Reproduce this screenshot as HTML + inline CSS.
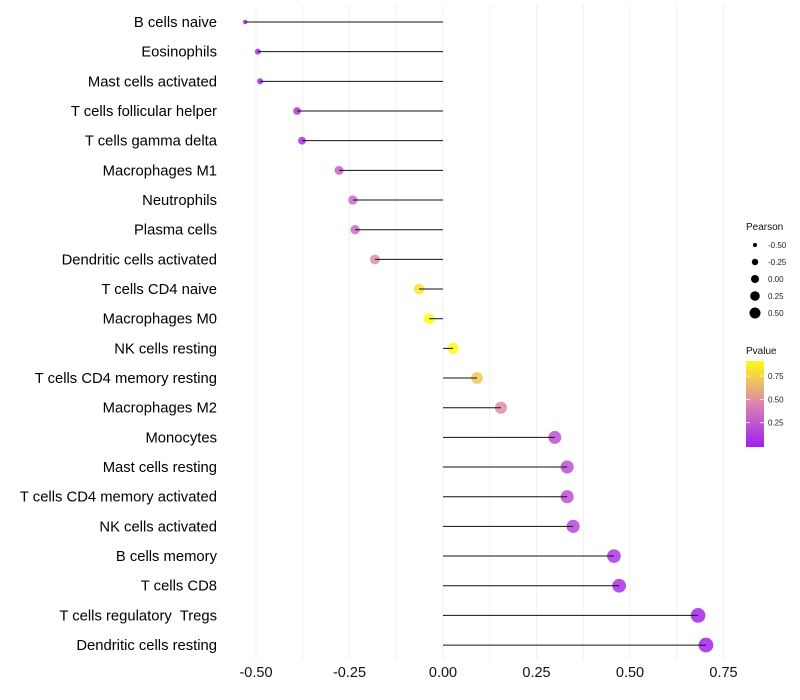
<!DOCTYPE html>
<html><head><meta charset="utf-8"><style>
body{margin:0;background:#fff;font-family:"Liberation Sans",sans-serif;}
svg{display:block}
text{white-space:pre}
</style></head><body>
<svg id="chart" width="800" height="700">
<g id="grid"></g>
<g id="marks"></g>
<g id="ylab"></g>
<g id="xlab"></g>
<g id="legend"></g>
</svg>
<script>
const categories=["B cells naive","Eosinophils","Mast cells activated","T cells follicular helper","T cells gamma delta","Macrophages M1","Neutrophils","Plasma cells","Dendritic cells activated","T cells CD4 naive","Macrophages M0","NK cells resting","T cells CD4 memory resting","Macrophages M2","Monocytes","Mast cells resting","T cells CD4 memory activated","NK cells activated","B cells memory","T cells CD8","T cells regulatory  Tregs","Dendritic cells resting"];
const pearson=[-0.529,-0.495,-0.489,-0.390,-0.377,-0.278,-0.241,-0.235,-0.182,-0.064,-0.037,0.027,0.091,0.155,0.299,0.332,0.332,0.348,0.457,0.471,0.682,0.703];
const pvalue=[0.03,0.04,0.05,0.10,0.08,0.30,0.35,0.33,0.50,0.80,0.88,0.88,0.70,0.50,0.22,0.22,0.22,0.18,0.10,0.08,0.02,0.02];
const xTicks=[-0.5,-0.25,0,0.25,0.5,0.75];
const xTickLabels=["-0.50","-0.25","0.00","0.25","0.50","0.75"];
const sizeBreaks=[-0.5,-0.25,0,0.25,0.5];
const sizeLabels=["-0.50","-0.25","0.00","0.25","0.50"];
const pBreaks=[0.75,0.5,0.25];
const pLabels=["0.75","0.50","0.25"];

const NS="http://www.w3.org/2000/svg";
const X=v=>443+v*374;
const Y=i=>22+i*29.67;
const R=v=>{const t=Math.max(0,(v+0.53)/1.23);return 2.1+5.3*Math.sqrt(t);};
function lerp(a,b,t){return a.map((x,i)=>Math.round(x+(b[i]-x)*t));}
function col(p){const t=Math.max(0,Math.min(1,p/0.88));
 const s=[[160,32,240],[216,128,184],[255,250,20]];
 const c=t<0.5?lerp(s[0],s[1],t*2):lerp(s[1],s[2],(t-0.5)*2);
 return `rgb(${c})`;}
function el(tag,attrs,parent,text){const e=document.createElementNS(NS,tag);for(const k in attrs)e.setAttribute(k,attrs[k]);if(text!==undefined)e.textContent=text;parent.appendChild(e);return e;}

const grid=document.getElementById('grid');
for(let v=-0.5;v<=0.751;v+=0.125){
 const g=el('line',{x1:X(v),x2:X(v),y1:5,y2:660,stroke:'#f0f0f0','stroke-width':1},grid);
 
 
}
const marks=document.getElementById('marks'),ylab=document.getElementById('ylab');
categories.forEach((c,i)=>{
 const pt=el('circle',{cx:X(pearson[i]),cy:Y(i),r:R(pearson[i]),fill:col(pvalue[i]),'fill-opacity':0.85},marks);
 
 
 const ln=el('line',{x1:X(0),x2:X(pearson[i]),y1:Y(i),y2:Y(i),stroke:'#111','stroke-width':1},marks);
 
 
 const t=el('text',{x:217,y:Y(i)+5,'text-anchor':'end','font-size':14.8,fill:'#000'},ylab,c);
 
 
});
const xl=document.getElementById('xlab');
xTicks.forEach((v,i)=>{
 const t=el('text',{x:X(v),y:677,'text-anchor':'middle','font-size':14.5,fill:'#111'},xl,xTickLabels[i]);
 
 
});
const lg=document.getElementById('legend');
const t1=el('text',{x:746,y:230,'font-size':10,fill:'#111'},lg,'Pearson');


const LR=[2,3.2,4,4.8,5.5];
sizeBreaks.forEach((v,i)=>{
 const y=245+i*17;
 const c=el('circle',{cx:755,cy:y,r:LR[i],fill:'#000'},lg);
 
 
 const t=el('text',{x:768,y:y+3,'font-size':8,fill:'#222'},lg,sizeLabels[i]);
 
 
});
const t2=el('text',{x:746,y:354,'font-size':10,fill:'#111'},lg,'Pvalue');


const defs=el('defs',{},lg);
const gr=el('linearGradient',{id:'pg',x1:0,y1:1,x2:0,y2:0},defs);
[0,0.25,0.5,0.75,1].forEach(o=>el('stop',{offset:o,'stop-color':col(o*0.9)},gr));
const bar=el('rect',{x:746,y:361,width:18,height:86,fill:'url(#pg)'},lg);


pBreaks.forEach((v,i)=>{
 const y=446-v/0.25*23.3;
 el('line',{x1:746,x2:750,y1:y,y2:y,stroke:'#fff','stroke-width':0.8},lg);
 el('line',{x1:760,x2:764,y1:y,y2:y,stroke:'#fff','stroke-width':0.8},lg);
 const t=el('text',{x:768,y:y+3,'font-size':8,fill:'#222'},lg,pLabels[i]);
 
 
});
</script>
</body></html>
